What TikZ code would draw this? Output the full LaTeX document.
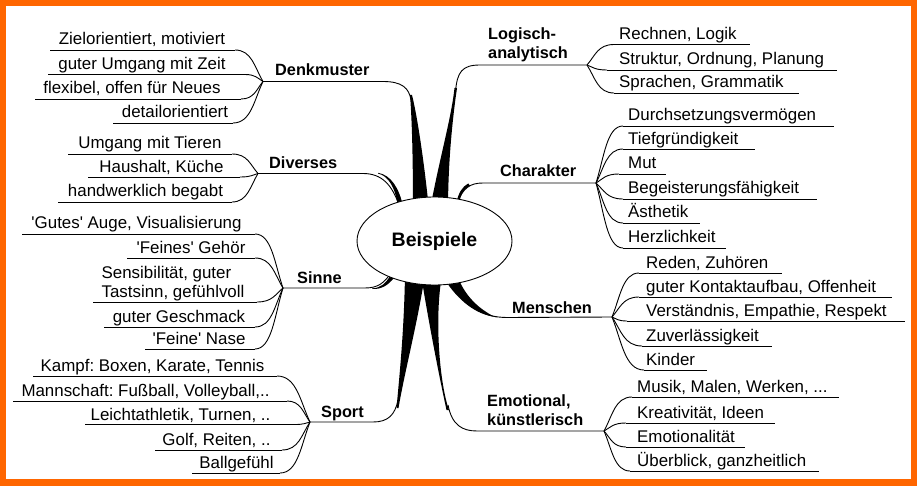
\documentclass[tikz,border=0pt]{standalone}
\usepackage{fontspec}
\newfontfamily\lsans{Liberation Sans}
\usetikzlibrary{shapes.geometric,calc}
\definecolor{orng}{RGB}{255,102,0}
\frenchspacing
\tikzset{
  leaf/.style={font=\lsans\fontsize{16.9}{19}\selectfont, inner sep=0pt, anchor=base, align=left},
  leafw/.style={leaf, anchor=base west},
  lbl/.style={font=\lsans\bfseries\fontsize{16.3}{19}\selectfont, inner sep=0pt, anchor=base west, align=left},
  ln/.style={line width=0.9pt, black},
  wedge/.style={fill=black},
}
\newcommand\twl[2]{\draw[ln] let \p1=(#1), \p2=(#2) in (#1) .. controls ({\x1+0.6*(\x2-\x1)},\y1) and ({\x2-0.3*(\x2-\x1)},{\y2+0.45*(\y1-\y2)}) .. (#2);}
\newcommand\twr[2]{\draw[ln] let \p1=(#1), \p2=(#2) in (#1) .. controls ({\x1+0.3*(\x2-\x1)},{\y1+0.45*(\y2-\y1)}) and ({\x2-0.6*(\x2-\x1)},\y2) .. (#2);}
% left: name, centre x, base (last line), uly, x1, x2, junction, text
\newcommand\leafL[8]{\node[leaf] (#1) at (#2,#3) {#8};
  \coordinate (#1a) at (#5,#4); \coordinate (#1b) at (#6,#4);
  \draw[ln] (#1a) -- (#1b); \twl{#1b}{#7}}
% right: name, left x, base, uly, x1, x2, junction, text
\newcommand\leafR[8]{\node[leafw] (#1) at (#2,#3) {#8};
  \coordinate (#1a) at (#5,#4); \coordinate (#1b) at (#6,#4);
  \twr{#7}{#1a} \draw[ln] (#1a) -- (#1b);}
\begin{document}
\begin{tikzpicture}[x=1pt,y=-1pt]
\fill[orng] (0,0) rectangle (917,486);
\fill[white] (6,6) rectangle (911,479);
\useasboundingbox (0,0) rectangle (917,486);

% junctions
\coordinate (dmj) at (263,81.5);
\coordinate (dvj) at (258,173.5);
\coordinate (snj) at (283,288);
\coordinate (spj) at (310,422);
\coordinate (lgj) at (587,65);
\coordinate (chj) at (596,183);
\coordinate (msj) at (612,317);
\coordinate (emj) at (604,431);

% branch labels
\node[lbl] (dm) at (275,76) {Denkmuster};
\node[lbl] (dv) at (269,169) {Diverses};
\node[lbl] (sn) at (297,283) {Sinne};
\node[lbl] (sp) at (321,417) {Sport};
\node[lbl] (lg) at (488,59) {Logisch-\\analytisch};
\node[lbl] (ch) at (500,177) {Charakter};
\node[lbl] (ms) at (512,313) {Menschen};
\node[lbl] (em) at (487,425) {Emotional,\\künstlerisch};

% main branches
\coordinate (dmk) at (383,81.5); \coordinate (dmt) at (411,100);
\draw[ln] (dmj) -- (dmk) .. controls (402,81.5) and (409,88) .. (dmt);
\fill[wedge] (410,95) .. controls (412,120) and (413,160) .. (413,210) -- (429,210) .. controls (424,160) and (417,115) .. (412,95) -- cycle;

\coordinate (lgk) at (480,65); \coordinate (lgt) at (455.5,92);
\draw[ln] (lgj) -- (lgk) .. controls (462,65) and (457,72) .. (lgt);
\fill[wedge] (454.5,88) .. controls (451,120) and (439,160) .. (430,210) -- (448,210) .. controls (448,160) and (453,115) .. (457,88) -- cycle;

\coordinate (chk) at (483,183); \coordinate (cht) at (457,203);
\draw[ln] (chj) -- (chk) .. controls (470,183) and (463,188) .. (cht);
\draw[line width=2.6pt] (469,184.5) .. controls (463,188) and (460,193) .. (457.5,203);

\coordinate (dvk) at (363,173.5); \coordinate (dvt) at (399,205);
\draw[ln] (dvj) -- (dvk) .. controls (382,173.5) and (392,185) .. (dvt);
\fill[wedge] (378,173.5) .. controls (389,176) and (395,188) .. (398,206) -- (403,206) .. controls (399,188) and (391,175) .. (378,172.8) -- cycle;

\coordinate (snk) at (365,288); \coordinate (snt) at (391,273);
\draw[ln] (snj) -- (snk) .. controls (378,288) and (384,283) .. (snt);
\fill[wedge] (372,288.4) .. controls (381,288) and (386,283) .. (390,276) -- (394,278) .. controls (388,285) and (382,289.5) .. (372,289) -- cycle;

\coordinate (spk) at (373,422); \coordinate (spt) at (398,400);
\draw[ln] (spj) -- (spk) .. controls (388,422) and (395,415) .. (spt);
\fill[wedge] (396.5,408) .. controls (400,370) and (404,330) .. (405,275) -- (425,275) .. controls (416,330) and (405,370) .. (398.5,408) -- cycle;

\coordinate (emk) at (477,431); \coordinate (emt) at (448,405);
\draw[ln] (emj) -- (emk) .. controls (462,431) and (452,425) .. (emt);
\fill[wedge] (446.5,410) .. controls (440,380) and (430,330) .. (421,275) -- (442,275) .. controls (434,320) and (440,385) .. (449,410) -- cycle;

\coordinate (msk) at (507,317.5); \coordinate (mst) at (450,283);
\draw[ln] (msj) -- (msk) .. controls (482,317.5) and (463,305) .. (mst);
\fill[wedge] (495,317) .. controls (475,314) and (458,300) .. (445,280) -- (459,280) .. controls (466,296) and (478,309) .. (497,318) -- cycle;

% centre
\node[draw, line width=0.9pt, fill=white, ellipse, minimum width=155pt, minimum height=88pt, inner sep=0pt,
  font=\lsans\bfseries\fontsize{19.5}{22}\selectfont] (bsp) at (434.5,241) {Beispiele};

% Denkmuster
\leafL{d1}{142}{45}{50}{50}{235}{dmj}{Zielorientiert, motiviert}
\leafL{d2}{142}{69.5}{74.5}{48}{245}{dmj}{guter Umgang mit Zeit}
\leafL{d3}{132}{94}{99}{35}{241}{dmj}{flexibel, offen für Neues}
\leafL{d4}{175}{118}{123}{113}{233}{dmj}{detailorientiert}
% Diverses
\leafL{v1}{150}{149}{154}{68}{232}{dvj}{Umgang mit Tieren}
\leafL{v2}{161.5}{172.5}{177}{88}{240}{dvj}{Haushalt, Küche}
\leafL{v3}{145.5}{197}{202}{58}{232}{dvj}{handwerklich begabt}
% Sinne
\leafL{s1}{136.5}{229}{234}{22}{255}{snj}{'Gutes' Auge, Visualisierung}
\leafL{s2}{191}{253}{258}{127}{255}{snj}{'Feines' Gehör}
\leafL{s3}{173}{297}{302}{93}{257}{snj}{Sensibilität, guter\\Tastsinn, gefühlvoll}
\leafL{s4}{179}{322}{327}{104}{255}{snj}{guter Geschmack}
\leafL{s5}{199}{344.5}{349}{145}{255}{snj}{'Feine' Nase}
% Sport
\leafL{p1}{152.5}{371}{376}{33}{277}{spj}{Kampf: Boxen, Karate, Tennis}
\leafL{p2}{145.5}{396}{401}{13}{287}{spj}{Mannschaft: Fußball, Volleyball,..}
\leafL{p3}{180.5}{420}{424.5}{85}{295}{spj}{Leichtathletik, Turnen, ..}
\leafL{p4}{216.5}{445}{450}{155}{282}{spj}{Golf, Reiten, ..}
\leafL{p5}{236.5}{468}{473}{192}{280}{spj}{Ballgefühl}
% Logisch-analytisch
\leafR{l1}{619}{40}{44.5}{614}{750}{lgj}{Rechnen, Logik}
\leafR{l2}{619}{65}{70}{607}{837}{lgj}{Struktur, Ordnung, Planung}
\leafR{l3}{619}{88}{93}{614}{799}{lgj}{Sprachen, Grammatik}
% Charakter
\leafR{c1}{628}{121}{126}{623}{834}{chj}{Durchsetzungsvermögen}
\leafR{c2}{628}{144.5}{149}{623}{755}{chj}{Tiefgründigkeit}
\leafR{c3}{628}{169}{174}{619}{666}{chj}{Mut}
\leafR{c4}{628}{194}{199}{623}{817}{chj}{Begeisterungsfähigkeit}
\leafR{c5}{628}{218}{223}{623}{700}{chj}{Ästhetik}
\leafR{c6}{628}{243}{248}{623}{726}{chj}{Herzlichkeit}
% Menschen
\leafR{m1}{646}{268}{273}{639}{782}{msj}{Reden, Zuhören}
\leafR{m2}{646}{292.5}{297}{639}{892}{msj}{guter Kontaktaufbau, Offenheit}
\leafR{m3}{646}{316.5}{321}{627}{905}{msj}{Verständnis, Empathie, Respekt}
\leafR{m4}{646}{341.5}{346}{642}{772}{msj}{Zuverlässigkeit}
\leafR{m5}{646}{365.5}{370}{644}{707}{msj}{Kinder}
% Emotional
\leafR{e1}{637}{392.5}{397}{632}{839}{emj}{Musik, Malen, Werken, ...}
\leafR{e2}{637}{418}{423}{626}{775}{emj}{Kreativität, Ideen}
\leafR{e3}{637}{442}{447}{626}{745}{emj}{Emotionalität}
\leafR{e4}{637}{466}{471}{630}{819}{emj}{Überblick, ganzheitlich}
\end{tikzpicture}
\end{document}
